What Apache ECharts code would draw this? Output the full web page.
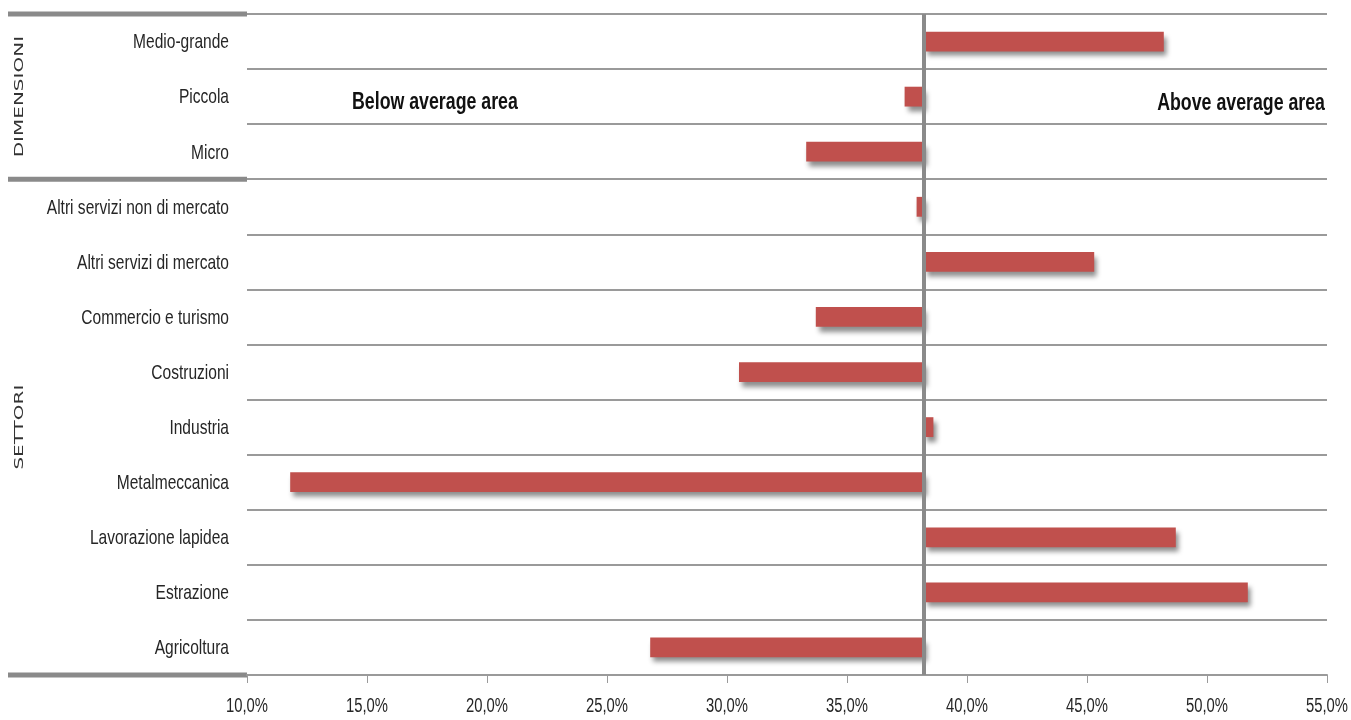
<!DOCTYPE html>
<html><head><meta charset="utf-8">
<script src="https://cdn.jsdelivr.net/npm/echarts@6/dist/echarts.min.js"></script>
<style>html,body{margin:0;padding:0;background:#fff}#chart{width:1351px;height:720px}</style>
</head><body><div id="chart"></div>
<script>
// Rows, top to bottom
const categories = ['Medio-grande', 'Piccola', 'Micro', 'Altri servizi non di mercato', 'Altri servizi di mercato',
  'Commercio e turismo', 'Costruzioni', 'Industria', 'Metalmeccanica', 'Lavorazione lapidea', 'Estrazione', 'Agricoltura'];
// Share per row (%)
const values = [48.2, 37.4, 33.3, 37.9, 45.3, 33.7, 30.5, 38.6, 11.8, 48.7, 51.7, 26.8];
// Overall average (%), bars grow from here
const average = 38.2;
// Row groups, in row order
const groupNames = ['DIMENSIONI', 'SETTORI'];
const groupSizes = [3, 9];
// Value axis ticks
const axisMin = 10, axisMax = 55, axisStep = 5;
const tickValues = [10, 15, 20, 25, 30, 35, 40, 45, 50, 55];
const areaLabels = ['Below average area', 'Above average area'];

const FONT = '"Liberation Sans", Arial, sans-serif';
const NARROW = 0.74;          // horizontal squeeze for the condensed lettering
const GRID = '#9a9a9a';
const fmtPct = v => v.toFixed(1).replace('.', ',') + '%';

const chart = echarts.init(document.getElementById('chart'));
chart.setOption({
  animation: false,
  backgroundColor: '#fff',
  grid: { left: 247, right: 24, top: 14, bottom: 45, outerBoundsMode: 'none' },
  xAxis: {
    type: 'value', min: axisMin, max: axisMax, interval: axisStep,
    axisLine: { show: true, lineStyle: { color: GRID, width: 2 } },
    axisTick: { show: true, length: 8, lineStyle: { color: GRID, width: 1 } },
    splitLine: { show: false },
    axisLabel: { show: false }
  },
  yAxis: {
    type: 'category', data: categories, inverse: true,
    axisLine: { show: false }, axisTick: { show: false },
    splitLine: { show: true, lineStyle: { color: GRID, width: 2 } },
    axisLabel: { show: false }
  },
  series: [{
    type: 'custom',
    data: values.map((v, i) => [i, v]),
    encode: { x: 1, y: 0 },
    renderItem: (params, api) => {
      const idx = api.value(0), v = api.value(1);
      const a = api.coord([average, idx]);
      const b = api.coord([v, idx]);
      const h = api.size([0, 1])[1] * 0.36;
      return {
        type: 'rect',
        shape: { x: Math.min(a[0], b[0]), y: a[1] - h / 2, width: Math.abs(b[0] - a[0]), height: h },
        style: {
          fill: '#c0504d',
          shadowBlur: 5, shadowColor: 'rgba(0,0,0,0.45)', shadowOffsetX: 3, shadowOffsetY: 5
        }
      };
    },
    markLine: {
      silent: true, symbol: 'none', label: { show: false },
      lineStyle: { color: '#8a8a8a', width: 4, type: 'solid' },
      data: [{ xAxis: average }]
    },
    z: 2
  }]
});

// Labels, group separators and group names, placed through the axes
const rowY = i => chart.convertToPixel({ yAxisIndex: 0 }, categories[i]);
const colX = v => chart.convertToPixel({ xAxisIndex: 0 }, v);
const band = rowY(1) - rowY(0);
const axisBottom = rowY(categories.length - 1) + band / 2;
const graphics = [];

categories.forEach((c, i) => graphics.push({
  type: 'text', x: 229, y: rowY(i) + 1, scaleX: NARROW,
  style: { text: c, fill: '#262626', font: '21px ' + FONT, align: 'right', verticalAlign: 'middle' }
}));
tickValues.forEach(v => graphics.push({
  type: 'text', x: colX(v), y: axisBottom + 32, scaleX: 0.76,
  style: { text: fmtPct(v), fill: '#262626', font: '19.5px ' + FONT, align: 'center', verticalAlign: 'middle' }
}));

let start = 0;
const edges = [rowY(0) - band / 2];
groupSizes.forEach((n, g) => {
  const top = rowY(start) - band / 2;
  const bottom = rowY(start + n - 1) + band / 2;
  edges.push(bottom);
  graphics.push({
    type: 'text', x: 20, y: (top + bottom) / 2, rotation: Math.PI / 2, scaleX: 1.6,
    style: {
      text: groupNames[g], fill: '#333', font: '12.5px "DejaVu Sans", sans-serif',
      align: 'center', verticalAlign: 'middle'
    }
  });
  start += n;
});
edges.forEach(y => graphics.push({
  type: 'line', shape: { x1: 8, y1: y, x2: 247, y2: y },
  style: { stroke: '#8a8a8a', lineWidth: 5 }
}));

graphics.push({
  type: 'text', x: 352, y: rowY(1) + 6, scaleX: NARROW,
  style: { text: areaLabels[0], fill: '#111', font: 'bold 24px ' + FONT, align: 'left', verticalAlign: 'middle' }
});
graphics.push({
  type: 'text', x: 1325, y: rowY(1) + 7, scaleX: NARROW,
  style: { text: areaLabels[1], fill: '#111', font: 'bold 24px ' + FONT, align: 'right', verticalAlign: 'middle' }
});
chart.setOption({ graphic: graphics });
</script>
</body></html>
